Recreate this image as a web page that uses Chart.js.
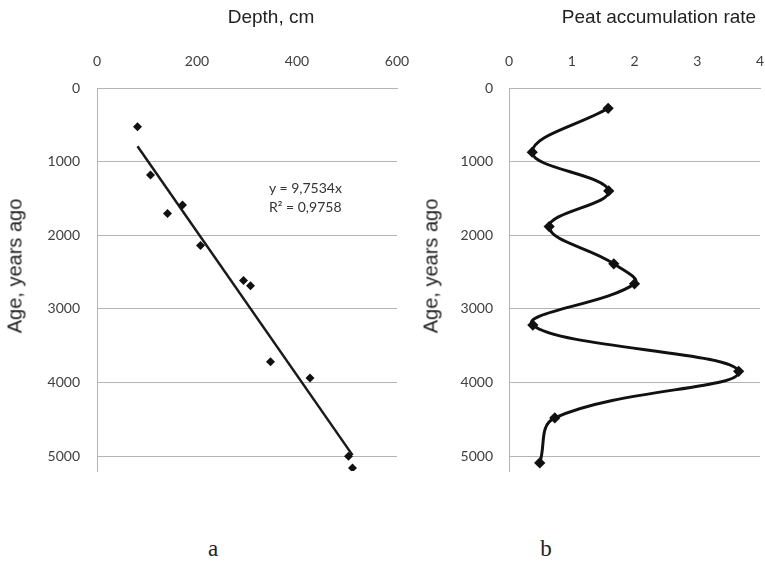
<!DOCTYPE html>
<html>
<head>
<meta charset="utf-8">
<script src="https://cdn.jsdelivr.net/npm/chart.js@4/dist/chart.umd.min.js"></script>
<style>
    html, body { margin: 0; padding: 0; background: #fff; overflow: hidden; }
    body { width: 765px; height: 561px; position: relative; }
    .box { position: absolute; top: 0; height: 480px; }
    .lbl { position: absolute; white-space: nowrap; color: #222; }
    .title { font: 19px "Liberation Sans", Arial, sans-serif; transform: translate(-50%, -50%); }
    .ytitle { font: 20px "Liberation Sans", Arial, sans-serif; transform: translate(-50%, -50%) rotate(-90deg); }
    .eq { font: 14px Lato, "Open Sans", sans-serif; color: #333; line-height: 19px; }
    .panel { font: 23px "Liberation Serif", "Times New Roman", serif; transform: translate(-50%, -50%); }
</style>
</head>
<body>
<div class="box" style="left:0;width:420px"><canvas id="depthChart" width="420" height="480"></canvas></div>
<div class="box" style="left:420px;width:345px"><canvas id="rateChart" width="345" height="480"></canvas></div>

<div class="lbl title" style="left:271px;top:17px">Depth, cm</div>
<div class="lbl title" style="left:659px;top:17px">Peat accumulation rate</div>
<div class="lbl ytitle" style="left:15px;top:266px">Age, years ago</div>
<div class="lbl ytitle" style="left:431px;top:266px">Age, years ago</div>
<div class="lbl eq" style="left:269px;top:178px">y = 9,7534x<br>R² = 0,9758</div>
<div class="lbl panel" style="left:213px;top:549px">a</div>
<div class="lbl panel" style="left:546px;top:549px">b</div>

<script>
// Panel a: radiocarbon dates vs depth
const depthCm = [81, 107, 141, 171, 207, 293, 307, 347, 426, 503, 511];
const ageYears = [525, 1180, 1705, 1587, 2139, 2614, 2685, 3716, 3937, 5000, 5158];
const trendSlope = 9.7534;

// Panel b: peat accumulation rate through time
const rateValues = [1.58, 0.37, 1.59, 0.64, 1.67, 2.0, 0.38, 3.66, 0.73, 0.49];
const rateAges = [275, 872, 1397, 1881, 2387, 2658, 3219, 3847, 4479, 5090];

// tick labels
const depthTicks = [0, 200, 400, 600];
const rateTicks = [0, 1, 2, 3, 4];
const ageTicks = [0, 1000, 2000, 3000, 4000, 5000];

const gridGray = '#b4b4b4';
const tickFont = { family: 'Lato, "Open Sans", sans-serif', size: 14 };

function ageAxis(width, tickPad) {
    return {
        reverse: true,
        min: 0,
        max: 5200,
        afterBuildTicks: (s) => { s.ticks = ageTicks.map(v => ({ value: v })); },
        afterFit: (s) => {
            s.width = width;
            s.paddingTop = 0;
            s.paddingBottom = 0;
        },
        grid: { color: gridGray, drawTicks: false },
        border: { color: gridGray },
        ticks: { color: '#404040', font: tickFont, padding: tickPad, callback: (v) => String(v) }
    };
}

function topAxis(max, tickValues) {
    return {
        type: 'linear',
        position: 'top',
        min: 0,
        max: max,
        afterBuildTicks: (s) => { s.ticks = tickValues.map(v => ({ value: v })); },
        afterFit: (s) => {
            s.height = 88;
            s.paddingLeft = 0;
            s.paddingRight = 0;
        },
        grid: { display: false, drawTicks: false },
        border: { color: gridGray },
        ticks: { color: '#404040', font: tickFont, padding: 18, callback: (v) => String(v) }
    };
}

const commonPlugins = { legend: { display: false }, tooltip: { enabled: false } };

// trend line end points from the fitted slope
const xMin = Math.min(...depthCm);
const xMax = Math.max(...depthCm);

new Chart(document.getElementById('depthChart'), {
    type: 'scatter',
    data: {
        datasets: [{
            data: depthCm.map((d, i) => ({ x: d, y: ageYears[i] })),
            pointStyle: 'rectRot',
            pointRadius: 4.5,
            backgroundColor: '#111',
            borderColor: '#111',
            borderWidth: 0
        }, {
            data: [{ x: xMin, y: trendSlope * xMin }, { x: xMax, y: trendSlope * xMax }],
            showLine: true,
            borderColor: '#1a1a1a',
            borderWidth: 2.5,
            pointRadius: 0
        }]
    },
    options: {
        responsive: false,
        animation: false,
        layout: { autoPadding: false, padding: { top: 0, right: 23, bottom: 9, left: 0 } },
        plugins: commonPlugins,
        scales: {
            x: topAxis(600, depthTicks),
            y: ageAxis(97, 17)
        }
    }
});

new Chart(document.getElementById('rateChart'), {
    type: 'scatter',
    data: {
        datasets: [{
            data: rateValues.map((r, i) => ({ x: r, y: rateAges[i] })),
            showLine: true,
            tension: 0.4,
            borderColor: '#111',
            borderWidth: 3,
            pointStyle: 'rectRot',
            pointRadius: 3.5,
            backgroundColor: '#111'
        }]
    },
    options: {
        responsive: false,
        animation: false,
        layout: { autoPadding: false, padding: { top: 0, right: 5, bottom: 9, left: 0 } },
        plugins: commonPlugins,
        scales: {
            x: topAxis(4, rateTicks),
            y: ageAxis(89, 16)
        }
    }
});
</script>
</body>
</html>
